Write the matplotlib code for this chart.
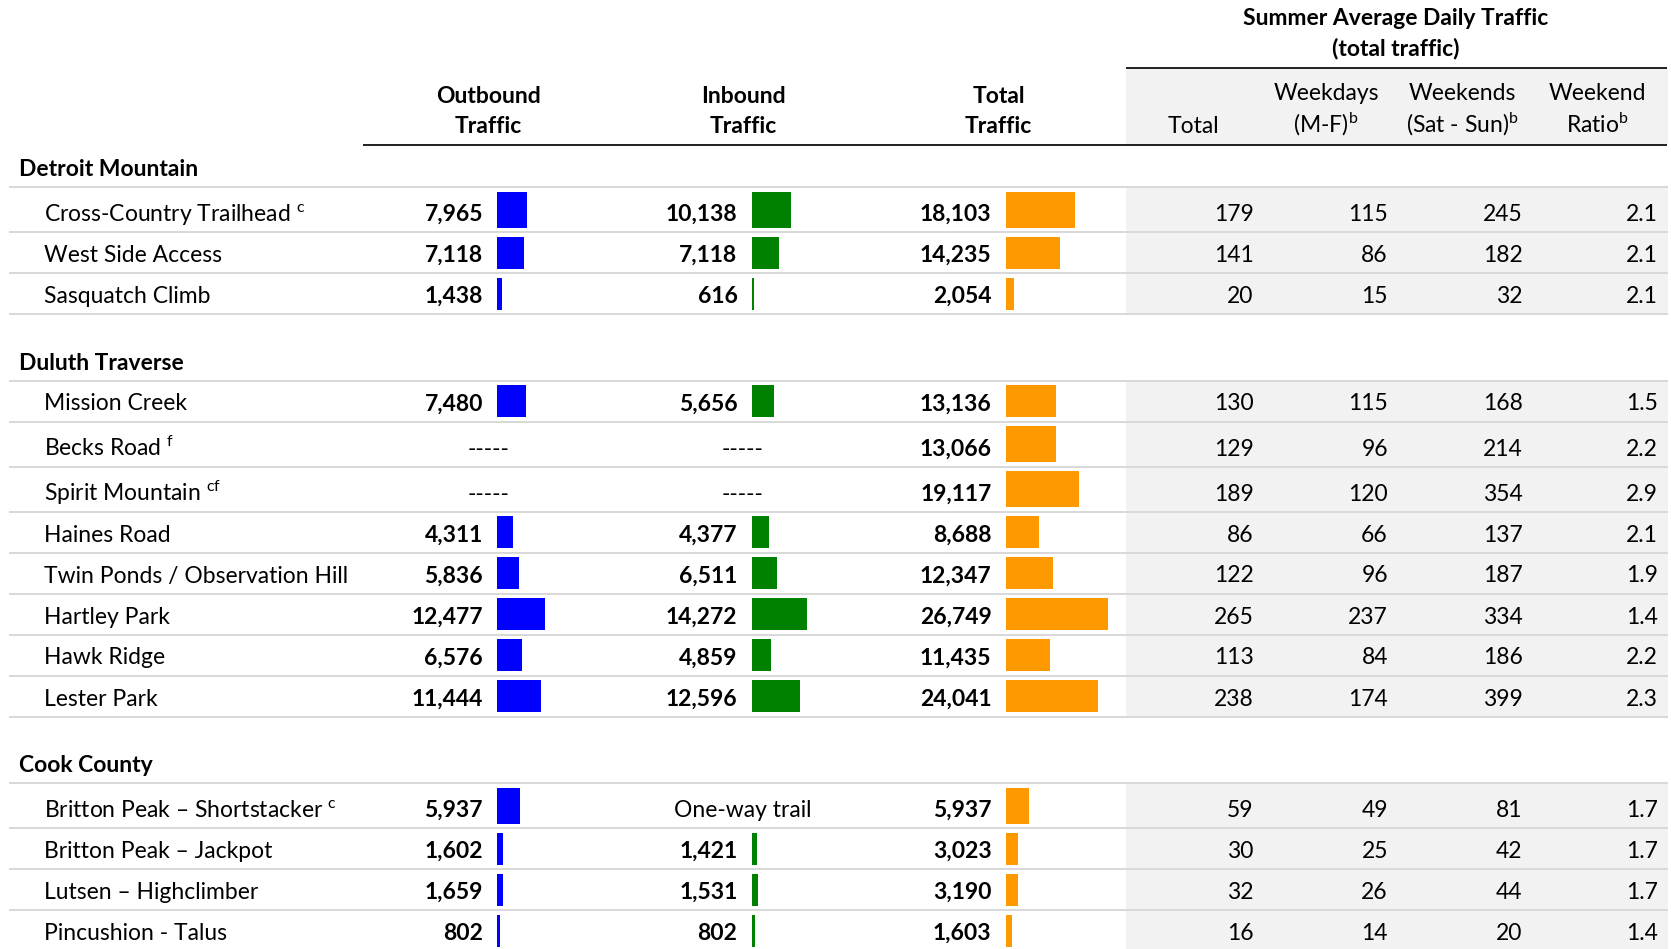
import matplotlib
matplotlib.use("Agg")
import matplotlib.pyplot as plt
from matplotlib.patches import Rectangle

plt.rcParams['font.family'] = ['Lato', 'DejaVu Sans']
plt.rcParams['mathtext.fontset'] = 'custom'
plt.rcParams['mathtext.rm'] = 'Lato'
plt.rcParams['mathtext.it'] = 'Lato:italic'
plt.rcParams['mathtext.bf'] = 'Lato:bold'

# --- datos ---
grupos = ["Detroit Mountain", "Duluth Traverse", "Cook County"]
grupo_da_trilha = [0, 0, 0, 1, 1, 1, 1, 1, 1, 1, 1, 2, 2, 2, 2]
trilhas = ["Cross-Country Trailhead", "West Side Access", "Sasquatch Climb",
           "Mission Creek", "Becks Road", "Spirit Mountain", "Haines Road",
           "Twin Ponds / Observation Hill", "Hartley Park", "Hawk Ridge", "Lester Park",
           "Britton Peak \u2013 Shortstacker", "Britton Peak \u2013 Jackpot",
           "Lutsen \u2013 Highclimber", "Pincushion - Talus"]
notas = ["c", "", "", "", "f", "cf", "", "", "", "", "", "c", "", "", ""]

outbound = [7965, 7118, 1438, 7480, None, None, 4311, 5836, 12477, 6576, 11444, 5937, 1602, 1659, 802]
inbound = [10138, 7118, 616, 5656, None, None, 4377, 6511, 14272, 4859, 12596, None, 1421, 1531, 802]
total = [18103, 14235, 2054, 13136, 13066, 19117, 8688, 12347, 26749, 11435, 24041, 5937, 3023, 3190, 1603]
sem_valor_out = {4: "-----", 5: "-----"}
sem_valor_in = {4: "-----", 5: "-----", 11: "One-way trail"}

adt_total = [179, 141, 20, 130, 129, 189, 86, 122, 265, 113, 238, 59, 30, 32, 16]
adt_semana = [115, 86, 15, 115, 96, 120, 66, 96, 237, 84, 174, 49, 25, 26, 14]
adt_fds = [245, 182, 32, 168, 214, 354, 137, 187, 334, 186, 399, 81, 42, 44, 20]
razao_fds = [2.1, 2.1, 2.1, 1.5, 2.2, 2.9, 2.1, 1.9, 1.4, 2.2, 2.3, 1.7, 1.7, 1.7, 1.4]


def sup(s):
    # nota de rodapé sobrescrita
    return r"$^{\mathrm{" + s + "}}$"


# --- layout (pixels) ---
W, H = 1671, 949
FS = 16.5
LW = 2 * 72 / 100  # 2 px
fig = plt.figure(figsize=(W / 100, H / 100), dpi=100)
ax = fig.add_axes([0, 0, 1, 1])
ax.set_xlim(0, W)
ax.set_ylim(H, 0)
ax.axis("off")

cinza_x0, cinza_x1 = 1126, 1668
col_dir = [1253.6, 1388, 1522.5, 1657.5]
num_dir = [483, 737.5, 991.5]
centros = [488.6, 743, 998.6]
barra_x0 = [497, 752, 1006]
barra_larg = 110
barra_max = 28800
cores = ["#0000ff", "#008000", "#ff9900"]

# eixos das barras (uma escala comum para as três colunas)
eixos_barra = []
for x0 in barra_x0:
    b = fig.add_axes([x0 / W, 0, barra_larg / W, 1])
    b.set_xlim(0, barra_max)
    b.set_ylim(H, 0)
    b.axis("off")
    eixos_barra.append(b)

# cabeçalho
ax.add_patch(Rectangle((cinza_x0, 67.7), cinza_x1 - cinza_x0, 145 - 67.7, color="#f2f2f2", lw=0, zorder=0))
ax.plot([cinza_x0, cinza_x1 - 1], [67.7, 67.7], color="#262626", lw=LW, solid_capstyle="butt")
ax.plot([362.5, cinza_x1 - 1], [145, 145], color="#262626", lw=LW, solid_capstyle="butt")
ax.text(1396, 25, "Summer Average Daily Traffic", ha="center", va="baseline", fontsize=FS, fontweight="bold")
ax.text(1396, 55, "(total traffic)", ha="center", va="baseline", fontsize=FS, fontweight="bold")
for cx, (l1, l2) in zip(centros, [("Outbound", "Traffic"), ("Inbound", "Traffic"), ("Total", "Traffic")]):
    ax.text(cx, 102.5, l1, ha="center", va="baseline", fontsize=FS, fontweight="bold")
    ax.text(cx, 133, l2, ha="center", va="baseline", fontsize=FS, fontweight="bold")
cab_dir = [(1193, "", "Total"), (1326, "Weekdays", "(M-F)" + sup("b")),
           (1462, "Weekends", "(Sat - Sun)" + sup("b")), (1597, "Weekend", "Ratio" + sup("b"))]
for cx, l1, l2 in cab_dir:
    if l1:
        ax.text(cx, 99.5, l1, ha="center", va="baseline", fontsize=FS)
    ax.text(cx, 133, l2, ha="center", va="baseline", fontsize=FS)

# linhas da tabela
y = 145
for g, nome_grupo in enumerate(grupos):
    if g > 0:
        y += 24.5
    y += 42
    ax.text(18.6, y - 11, nome_grupo, ha="left", va="baseline", fontsize=FS, fontweight="bold")
    ax.plot([10, cinza_x1 - 1], [y, y], color="#d9d9d9", lw=LW, zorder=1)
    for i in [k for k, gg in enumerate(grupo_da_trilha) if gg == g]:
        rh = 45 if notas[i] else 41
        topo, base = y, y + rh
        meio = (topo + base) / 2
        ax.add_patch(Rectangle((cinza_x0, topo), cinza_x1 - cinza_x0, rh, color="#f2f2f2", lw=0, zorder=0))
        ax.plot([10, cinza_x1 - 1], [base, base], color="#d9d9d9", lw=LW, zorder=1)
        rotulo = trilhas[i]
        if notas[i]:
            rotulo += " " + sup(notas[i])
        ax.text(43.6, base - 11, rotulo, ha="left", va="baseline", fontsize=FS)

        for c, (serie, faltas) in enumerate([(outbound, sem_valor_out), (inbound, sem_valor_in), (total, {})]):
            v = serie[i]
            if v is None:
                ax.text(centros[c], base - 11, faltas[i], ha="center", va="baseline", fontsize=FS)
                continue
            ax.text(num_dir[c], base - 11, f"{v:,}", ha="right", va="baseline", fontsize=FS, fontweight="bold")
            eixos_barra[c].barh(meio, v, height=rh - 9, left=0, color=cores[c], lw=0)

        valores = [f"{adt_total[i]}", f"{adt_semana[i]}", f"{adt_fds[i]}", f"{razao_fds[i]:.1f}"]
        for xd, txt in zip(col_dir, valores):
            ax.text(xd, base - 11, txt, ha="right", va="baseline", fontsize=FS)
        y = base

fig.savefig("out.png", dpi=100)
